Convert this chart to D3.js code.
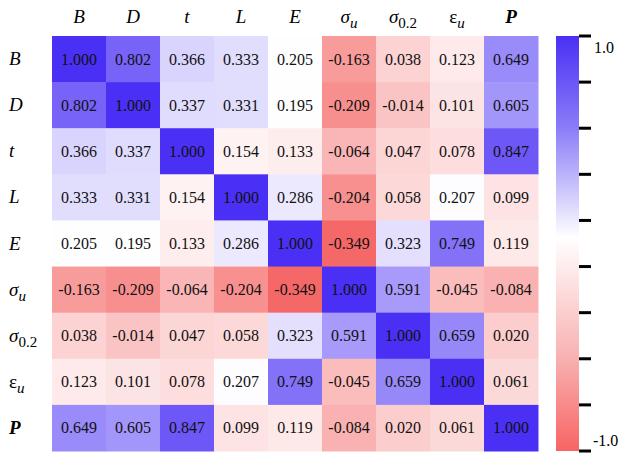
<!DOCTYPE html>
<html>
<head>
<meta charset="utf-8">
<script src="https://cdn.jsdelivr.net/npm/d3@7"></script>
<style>
  body { margin: 0; background: #fff; }
  svg text { font-family: "Liberation Serif", "Times New Roman", Times, serif; }
</style>
</head>
<body>
<svg id="chart"></svg>
<script>
// variable names, main glyph + subscript
const varMain = ["B", "D", "t", "L", "E", "σ", "σ", "ε", "P"];
const varSub = ["", "", "", "", "", "u", "0.2", "u", ""];

// correlation matrix, row by row
const rowB = [1.000, 0.802, 0.366, 0.333, 0.205, -0.163, 0.038, 0.123, 0.649];
const rowD = [0.802, 1.000, 0.337, 0.331, 0.195, -0.209, -0.014, 0.101, 0.605];
const rowT = [0.366, 0.337, 1.000, 0.154, 0.133, -0.064, 0.047, 0.078, 0.847];
const rowL = [0.333, 0.331, 0.154, 1.000, 0.286, -0.204, 0.058, 0.207, 0.099];
const rowE = [0.205, 0.195, 0.133, 0.286, 1.000, -0.349, 0.323, 0.749, 0.119];
const rowSu = [-0.163, -0.209, -0.064, -0.204, -0.349, 1.000, 0.591, -0.045, -0.084];
const rowS02 = [0.038, -0.014, 0.047, 0.058, 0.323, 0.591, 1.000, 0.659, 0.020];
const rowEu = [0.123, 0.101, 0.078, 0.207, 0.749, -0.045, 0.659, 1.000, 0.061];
const rowP = [0.649, 0.605, 0.847, 0.099, 0.119, -0.084, 0.020, 0.061, 1.000];

const cbTicks = d3.range(10);          // tick marks along the colour bar
const cbLabels = ["1.0", "-1.0"];

const W = 620, H = 454;
const FONT = "'Liberation Serif', 'Times New Roman', Times, serif";
const svg = d3.select("#chart").attr("width", W).attr("height", H);

const rows = [rowB, rowD, rowT, rowL, rowE, rowSu, rowS02, rowEu, rowP];
const cells = [];
rows.forEach((r, i) => r.forEach((v, j) => cells.push({ i, j, v })));

const idx = d3.range(varMain.length);
const x = d3.scaleBand().domain(idx).range([52, 538]);
const y = d3.scaleBand().domain(idx).range([36, 451]);

const color = d3.scaleLinear()
  .domain([-0.349, 0.2, 1.0])
  .range(["#f56868", "#ffffff", "#4a30f5"])
  .clamp(true);

// cells
svg.append("g").selectAll("rect")
  .data(cells)
  .join("rect")
    .attr("x", d => x(d.j))
    .attr("y", d => y(d.i))
    .attr("width", x.bandwidth() + 0.5)
    .attr("height", y.bandwidth() + 0.5)
    .attr("fill", d => color(d.v));

svg.append("g").selectAll("text")
  .data(cells)
  .join("text")
    .attr("x", d => x(d.j) + x.bandwidth() / 2)
    .attr("y", d => y(d.i) + y.bandwidth() / 2 + 5.5)
    .attr("text-anchor", "middle")
    .attr("font-family", FONT)
    .attr("font-size", 16)
    .attr("fill", "#111")
    .text(d => d.v.toFixed(3));

// variable labels
const drawLabel = (sel, k) => {
  const t = sel.append("text").attr("font-size", 19).attr("font-family", FONT);
  const m = t.append("tspan").text(varMain[k]);
  if (k === 8) m.attr("font-weight", "bold").attr("font-style", "italic");
  else if (k !== 7) m.attr("font-style", "italic");
  if (varSub[k]) {
    t.append("tspan")
      .attr("dy", 5)
      .attr("font-size", 15)
      .attr("font-style", varSub[k] === "u" ? "italic" : "normal")
      .text(varSub[k]);
  }
  return t;
};

idx.forEach(k => {
  const g = svg.append("g")
    .attr("transform", `translate(${x(k) + x.bandwidth() / 2},23)`);
  drawLabel(g, k).attr("text-anchor", "middle");
  const g2 = svg.append("g")
    .attr("transform", `translate(9,${y(k) + y.bandwidth() / 2 + 6})`);
  drawLabel(g2, k);
});

// colour bar
const defs = svg.append("defs");
const grad = defs.append("linearGradient")
  .attr("id", "cb").attr("x1", 0).attr("y1", 0).attr("x2", 0).attr("y2", 1);
[[0, "#4a30f5"], [0.22, "#8a7cf8"], [0.38, "#cfcafc"], [0.485, "#ffffff"],
 [0.6, "#fde0e0"], [0.78, "#f8b0b0"], [1, "#f86464"]].forEach(s => {
  grad.append("stop").attr("offset", s[0]).attr("stop-color", s[1]);
});

const cb = d3.scaleLinear().domain([0, 9]).range([36, 451]);
svg.append("rect")
  .attr("x", 556).attr("y", cb(0))
  .attr("width", 23).attr("height", cb(9) - cb(0))
  .attr("fill", "url(#cb)");

svg.append("g").selectAll("line")
  .data(cbTicks)
  .join("line")
    .attr("x1", 579).attr("x2", 591)
    .attr("y1", d => cb(d)).attr("y2", d => cb(d))
    .attr("stroke", "#000").attr("stroke-width", 3);

svg.append("text")
  .attr("x", 594).attr("y", cb(0) + 17)
  .attr("font-family", FONT)
  .attr("font-size", 16)
  .text(cbLabels[0]);
svg.append("text")
  .attr("x", 593).attr("y", cb(9) - 5)
  .attr("font-family", FONT)
  .attr("font-size", 16)
  .text(cbLabels[1]);
</script>
</body>
</html>
